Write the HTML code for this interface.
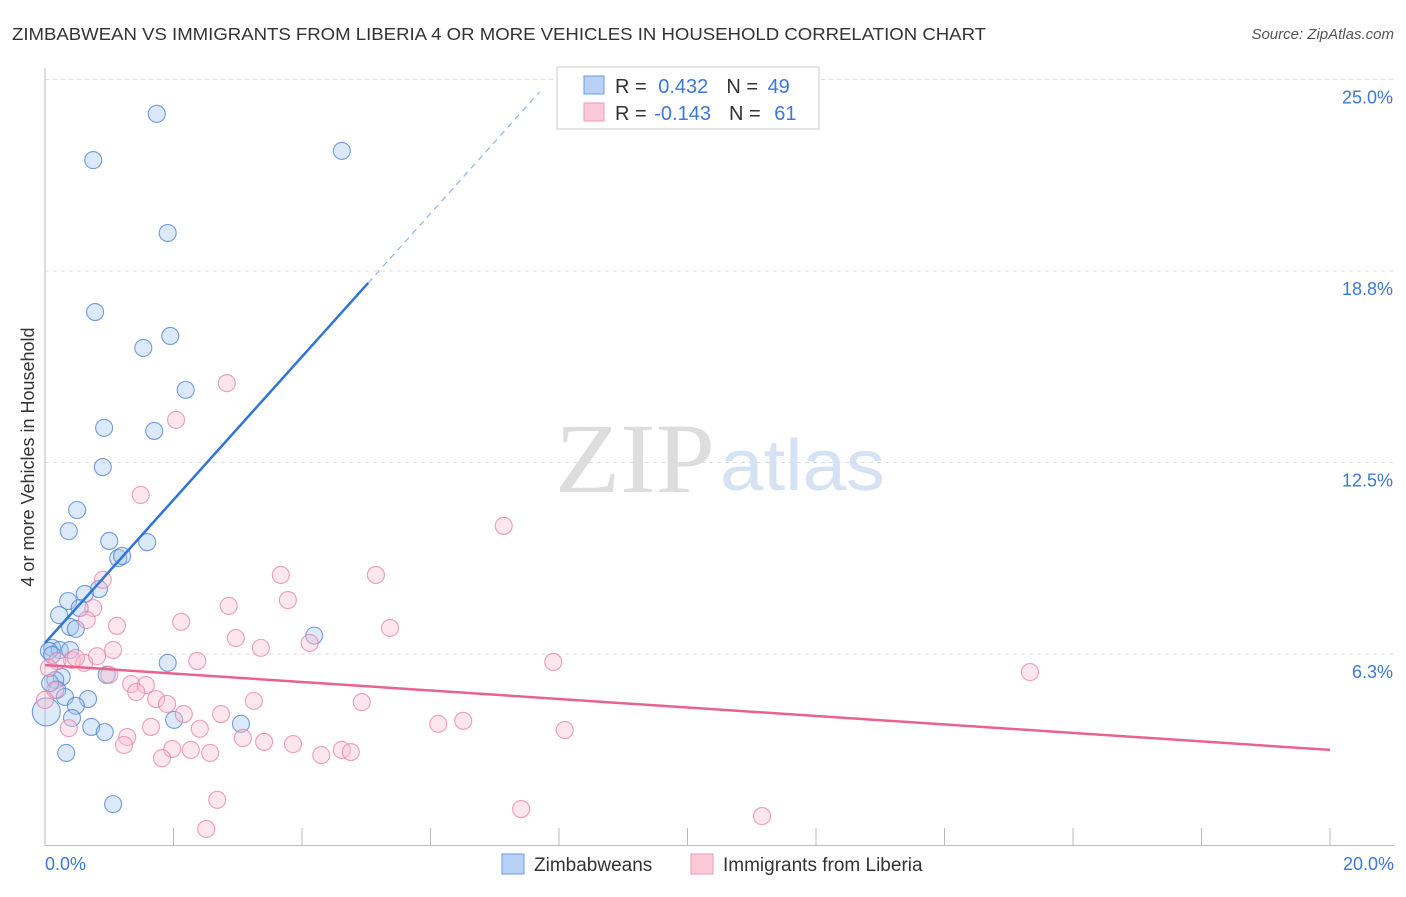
<!DOCTYPE html>
<html><head><meta charset="utf-8"><style>
body{margin:0;background:#fff;font-family:"Liberation Sans",sans-serif;}
</style></head><body>
<svg id="chart" width="1406" height="892" font-family="Liberation Sans, sans-serif">
<text x="12" y="40" font-size="17.5" fill="#333" textLength="974" lengthAdjust="spacingAndGlyphs">ZIMBABWEAN VS IMMIGRANTS FROM LIBERIA 4 OR MORE VEHICLES IN HOUSEHOLD CORRELATION CHART</text>
<text x="1394" y="39" font-size="15" fill="#555" text-anchor="end" font-style="italic">Source: ZipAtlas.com</text>
<text x="555" y="492" font-size="100" fill="#ddd" style="font-family:'Liberation Serif',serif" textLength="160" lengthAdjust="spacingAndGlyphs">ZIP</text>
<text x="720" y="490" font-size="72" fill="#d5e2f3" textLength="165" lengthAdjust="spacingAndGlyphs">atlas</text>
<text transform="translate(34,457) rotate(-90)" font-size="18" fill="#333" text-anchor="middle">4 or more Vehicles in Household</text>
<g id="grid"></g><g id="pts"></g><g id="lines"></g>
<g>
<rect x="557" y="67" width="262" height="62" fill="#fff" stroke="#ccc"/>
<rect x="584" y="76" width="20" height="18" fill="#b7d2f5" stroke="#6d9be0"/>
<rect x="584" y="103" width="20" height="18" fill="#fbc9d8" stroke="#ee9ab4"/>
<text x="615" y="93" font-size="20" fill="#333">R = <tspan fill="#3b78d8" dx="6">0.432</tspan><tspan dx="18">N = </tspan><tspan fill="#3b78d8" dx="4">49</tspan></text>
<text x="615" y="120" font-size="20" fill="#333">R = <tspan fill="#3b78d8" dx="2">-0.143</tspan><tspan dx="18">N = </tspan><tspan fill="#3b78d8" dx="8">61</tspan></text>
</g>
<rect x="502" y="854" width="22" height="20" fill="#b7d2f5" stroke="#6d9be0"/>
<text x="534" y="871" font-size="19" fill="#333">Zimbabweans</text>
<rect x="691" y="854" width="22" height="20" fill="#fbc9d8" stroke="#ee9ab4"/>
<text x="723" y="871" font-size="19" fill="#333">Immigrants from Liberia</text>
<text x="45" y="870" font-size="18" fill="#3b78d8">0.0%</text>
<text x="1394" y="870" font-size="18" fill="#3b78d8" text-anchor="end">20.0%</text>
</svg>
<script>
const yTicks=[25.0,18.8,12.5,6.3];
const yTickLabels=["25.0%","18.8%","12.5%","6.3%"];
const blueX=[1.74,0.75,4.62,1.91,0.78,1.95,1.53,2.19,0.92,1.70,0.90,0.50,0.37,1.00,1.59,1.14,1.20,0.84,0.62,0.36,0.54,0.22,0.39,0.48,0.11,0.23,0.06,4.19,1.91,0.96,0.26,0.16,0.19,0.31,0.67,0.48,0.42,0.02,2.01,3.05,0.72,0.93,0.33,1.06,0.11,0.08,0.39];
const blueY=[23.88,22.37,22.67,19.99,17.41,16.63,16.24,14.87,13.63,13.53,12.35,10.95,10.26,9.94,9.90,9.38,9.45,8.37,8.21,7.98,7.75,7.52,7.13,7.07,6.45,6.38,6.35,6.85,5.96,5.57,5.50,5.40,5.08,4.85,4.78,4.56,4.16,4.36,4.10,3.97,3.87,3.70,3.02,1.35,6.22,5.30,6.38];
const pinkX=[2.83,2.04,1.49,7.14,3.67,5.15,0.90,3.78,2.86,0.75,2.12,1.12,5.37,0.65,2.97,4.12,3.36,1.06,7.91,15.33,2.37,0.42,0.61,0.81,0.48,0.19,0.06,1.00,1.34,1.57,1.42,1.73,1.90,3.25,4.93,2.16,2.74,1.65,2.41,6.51,6.12,0.37,1.28,3.08,8.09,1.23,3.41,3.86,1.98,2.27,2.57,1.82,4.30,4.62,4.76,2.68,7.41,2.51,11.16,0.00,0.16];
const pinkY=[15.09,13.89,11.44,10.43,8.83,8.83,8.67,8.01,7.82,7.75,7.30,7.17,7.10,7.36,6.77,6.61,6.45,6.38,5.99,5.66,6.02,6.05,5.96,6.18,6.12,6.02,5.79,5.57,5.27,5.24,5.01,4.78,4.62,4.72,4.68,4.29,4.29,3.87,3.81,4.07,3.97,3.83,3.54,3.51,3.77,3.28,3.38,3.31,3.15,3.12,3.02,2.85,2.95,3.12,3.05,1.49,1.19,0.54,0.96,4.75,5.08];
const blueTrend=[[0,6.61],[5.03,18.36],[7.70,24.6]];
const pinkTrend=[[0,5.89],[20,3.12]];
const X=v=>45+v/20*1285, Y=v=>845.5-v/6.25*191.5;
const NS="http://www.w3.org/2000/svg";
function mk(t,a,p){const e=document.createElementNS(NS,t);for(const k in a)e.setAttribute(k,a[k]);p.appendChild(e);return e;}
const g=document.getElementById('grid');
yTicks.forEach((t,i)=>{const yy=Y(t===18.8?18.75:t===6.3?6.25:t);
const l=mk('line',{x1:45,x2:1394,y1:yy,y2:yy,stroke:'#ddd','stroke-dasharray':'4,4'},g);


const tx=mk('text',{x:1393,y:yy+24,'font-size':18,fill:'#3b78d8','text-anchor':'end'},g);tx.textContent=yTickLabels[i];

});
const ax=mk('line',{x1:45,x2:45,y1:68,y2:846,stroke:'#bbb'},g);


const bx=mk('line',{x1:45,x2:1394,y1:845.5,y2:845.5,stroke:'#bbb'},g);


for(let i=1;i<=10;i++){const t=mk('line',{x1:X(i*2),x2:X(i*2),y1:828,y2:846,stroke:'#bbb'},g);

}
const P=document.getElementById('pts');
blueX.forEach((v,i)=>{const c=mk('circle',{cx:X(v),cy:Y(blueY[i]),r:i==37?14:8.5,fill:'rgba(160,196,240,0.38)',stroke:'rgba(70,125,215,0.75)','stroke-width':1.1},P);

});
pinkX.forEach((v,i)=>{const c=mk('circle',{cx:X(v),cy:Y(pinkY[i]),r:8.5,fill:'rgba(249,190,208,0.38)',stroke:'rgba(232,120,155,0.7)','stroke-width':1.1},P);

});
const L=document.getElementById('lines');
const b1=mk('line',{x1:X(blueTrend[0][0]),y1:Y(blueTrend[0][1]),x2:X(blueTrend[1][0]),y2:Y(blueTrend[1][1]),stroke:'#2f74d8','stroke-width':2.5},L);


const b2=mk('line',{x1:X(blueTrend[1][0]),y1:Y(blueTrend[1][1]),x2:X(blueTrend[2][0]),y2:Y(blueTrend[2][1]),stroke:'#8fb4ea','stroke-width':1.2,'stroke-dasharray':'6,5'},L);


const p1=mk('line',{x1:X(pinkTrend[0][0]),y1:Y(pinkTrend[0][1]),x2:X(pinkTrend[1][0]),y2:Y(pinkTrend[1][1]),stroke:'#e8628e','stroke-width':2.5},L);


</script>
</body></html>
